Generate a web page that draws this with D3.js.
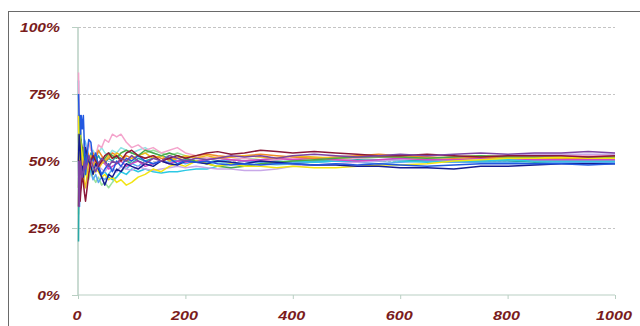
<!DOCTYPE html>
<html>
<head>
<meta charset="utf-8">
<script src="https://cdn.jsdelivr.net/npm/d3@7"></script>
<style>
  html, body { margin: 0; padding: 0; background: #fff; overflow: hidden; }
  svg { display: block; }
</style>
</head>
<body>
<svg id="chart" width="640" height="326"></svg>
<script>
// Number of flips at which each running proportion is recorded
const flips = [1,2,3,4,5,6,8,10,12,14,17,20,24,28,33,38,44,50,57,64,72,80,90,100,112,125,140,155,170,185,
               200,220,240,260,285,310,340,370,400,440,480,520,560,600,650,700,750,800,850,900,950,1000];

// Running share of heads (%) for each trial
const pink     = [83,70,60,58,55,52,50,56,54,52, 55,57,54,53,52,56,55,58,57,60, 59,60,57,55,56,54,55,53,54,55, 53,52,51,51.5,50.5,51,50,50.5,51,51, 50.5,51,51.5,51,51.5,51,51.5,52,51.5,52, 52,52];
const blue     = [75,67,67,67,60,67,62,67,55,45, 52,58,57,50,53,48,45,47,49,46, 50,48,51,50,52,50,49,50,51,49, 50,49.5,50,49,48.5,49,48.5,49,49,48.5, 49,48.5,49,48.5,48,48.5,49,49,49,49, 48.5,49];
const navy     = [50,60,58,55,50,45,48,44,50,55, 52,50,48,45,49,47,44,41,45,44, 47,46,49,48,47,49,48,50,49,48.5, 50,49.5,49,50,49.5,49,50,49.5,49,48.5, 48.5,48,48,47.5,47.5,47,48,48,48.5,49, 49,49];
const maroon   = [33,50,40,35,38,40,45,42,38,35, 40,45,50,52,50,48,50,52,53,51, 52,50,53,54,52,51,52,50,51,52, 51,52,53,53.5,52.5,53,54,53.5,53,53.5, 53,52.5,52,52,52.5,52,51.5,52,52,52, 51.5,52];
const purple   = [50,33,40,50,45,48,44,46,50,47, 49,52,50,48,46,49,51,50,48,50, 49,51,50,52,50,49,51,50,52,51, 50,51,50.5,51,52,51.5,52,51,52,52.5, 52,51.5,52,52.5,52,52.5,53,52.5,53,53, 53.5,53];
const yellow   = [67,50,60,58,57,55,52,50,48,45, 44,46,48,45,47,46,44,45,43,44, 42,43,41,42,44,45,47,46,48,49, 48,50,49,48,49,48,48,47.5,48,47.5, 47.5,48,48.5,48.5,49,50,50.5,51,51,51.5, 51,51];
const gold     = [50,67,55,45,50,58,50,45,42,40, 45,50,52,48,50,47,49,50,52,51, 53,52,50,51,52,53,51,52,50,51, 52,51,52,51,51.5,52,51.5,51,52,51.5, 51,51.5,52,51.5,51,51.5,52,51.5,51,51, 51.5,51.5];
const cyan     = [40,50,45,50,55,50,47,48,50,52, 49,47,46,48,50,47,45,46,44,43, 44,46,45,47,46,47,46,45.5,46,46, 46.5,47,47,48,49,49,50,49.5,50,49.5, 50,50,50.5,50,49.5,50,50,50.5,50,50, 50,50];
const skyBlue  = [80,50,33,50,40,50,50,50,58,57, 53,50,46,43,45,42,44,43,45,47, 46,48,47,49,48,50,49,50,49.5,50, 49,50,49.5,50,50.5,50,49.5,49,49.5,49.5, 50,49.5,49,49.5,50,49.5,49.5,49.5,49,49.5, 49.5,49.5];
const lightGrn = [30,50,45,40,44,50,45,42,44,48, 45,43,46,44,42,44,41,42,40,42, 44,46,48,50,52,53,54,53,52,53, 52,51,51,50,50.5,51,50.5,51,50.5,50, 50.5,51,50.5,50,50.5,50.5,51,50.5,50.5,50.5, 50.5,50.5];
const green    = [60,50,67,62,60,57,55,52,50,52, 49,51,50,52,51,49,50,51,53,52, 51,53,54,53,52,54,53,52,53,52, 51,50,49,48,47.5,48,49,49.5,50,50.5, 51,51.5,51.5,51.5,51,51.5,52,51.5,51.5,51.5, 51.5,51.5];
const teal     = [20,45,50,45,48,45,50,55,50,48, 52,50,53,51,50,52,50,49,51,50, 52,51,50,49,51,50,51,52,51,50, 50.5,50,49.5,50,50.5,50,50.5,50,49.5,50, 50,50.5,50,50.5,50,49.5,50,50,49.5,49.5, 49.5,49.5];
const lavender = [50,67,60,55,52,50,48,50,52,50, 48,47,49,48,46,48,47,46,48,47, 46,48,47,46.5,48,47,46.5,47,47.5,48, 47.5,48,47.5,47,47,46.5,46.5,47,48,48.5, 49,49.5,50,50.5,51,51.5,52,52,52.5,52.5, 52.5,52.5];
const orange   = [40,50,55,50,48,52,50,55,52,50, 54,52,50,53,51,54,52,50,51,53, 52,50,52,51,52,51,52,51,50.5,51, 51.5,52,52.5,52,51.5,52,52.5,52,51.5,51, 51.5,52,52.5,52,51.5,51,51.5,51,51,51, 51,51];
const magenta  = [67,50,40,45,50,52,48,46,48,50, 52,49,47,49,51,48,50,49,47,48, 49,50,48,49,50,48,49,50,49,50, 49.5,50,50.5,51,50.5,50,50.5,51,50.5,51, 50.5,50,50.5,51,50.5,50.5,51,51,50.5,50.5, 50.5,50.5];
const aqua     = [50,40,50,55,53,50,52,48,50,53, 51,50,52,54,52,53,55,53,52,54, 53,55,54,53,54,55,53,52,51,52, 51,50,49,49.5,49,48.5,49,48.5,49,49.5, 50,50.5,50,50.5,50,50.5,50,50.5,50,50, 50,50];

const seriesList = [
  { values: aqua,     color: "#8ee4e4" },
  { values: lightGrn, color: "#9ce29c" },
  { values: teal,     color: "#2aa8a8" },
  { values: skyBlue,  color: "#5aaaf0" },
  { values: cyan,     color: "#2cc8e4" },
  { values: pink,     color: "#f4a4cc" },
  { values: lavender, color: "#c8a8e8" },
  { values: magenta,  color: "#d048c4" },
  { values: orange,   color: "#f08a28" },
  { values: gold,     color: "#eebc1c" },
  { values: green,    color: "#48a848" },
  { values: yellow,   color: "#f2e414" },
  { values: navy,     color: "#141c94" },
  { values: blue,     color: "#2258e0" },
  { values: maroon,   color: "#8c1838" },
  { values: purple,   color: "#7c44a4" }
];

const yTicks = [0, 25, 50, 75, 100];
const xTicks = [0, 200, 400, 600, 800, 1000];

const svg = d3.select("#chart");
const x = d3.scaleLinear().domain([0, 1000]).range([78, 615]);
const y = d3.scaleLinear().domain([0, 100]).range([295, 27]);

// Outer chart frame (right and bottom edges sit beyond the view)
svg.append("rect")
  .attr("x", 8.5).attr("y", 11.5)
  .attr("width", 660).attr("height", 340)
  .attr("fill", "none").attr("stroke", "#6a6a6a").attr("stroke-width", 1);

// Dashed horizontal gridlines
svg.append("g").selectAll("line")
  .data(yTicks.filter(d => d > 0))
  .join("line")
  .attr("x1", x(0)).attr("x2", x(1000))
  .attr("y1", d => Math.round(y(d)) + 0.5).attr("y2", d => Math.round(y(d)) + 0.5)
  .attr("stroke", "#c4c4c4").attr("stroke-width", 1)
  .attr("stroke-dasharray", "3,2");

const axisColor = "#b9cfc3";

// Y axis
const yAxis = svg.append("g")
  .attr("transform", `translate(${x(0)},0)`)
  .call(d3.axisLeft(y).tickValues(yTicks).tickSize(6).tickFormat(""));
yAxis.select(".domain").attr("stroke", axisColor).attr("stroke-width", 1.5).attr("d", `M0,${y(100)}V${y(0)}`);
yAxis.selectAll(".tick line").attr("stroke", axisColor);

// X axis
const xAxis = svg.append("g")
  .attr("transform", `translate(0,${y(0)})`)
  .call(d3.axisBottom(x).tickValues(xTicks).tickSize(4).tickFormat(""));
xAxis.select(".domain").attr("stroke", axisColor).attr("stroke-width", 1.2).attr("d", `M${x(0)},0H${x(1000)}`);
xAxis.selectAll(".tick line").attr("stroke", axisColor);

// Tick labels
const labelStyle = sel => sel
  .attr("fill", "#7a1c1c")
  .attr("font-family", "Liberation Sans, Arial, sans-serif")
  .attr("font-size", 13.5)
  .attr("font-weight", "bold")
  .attr("font-style", "italic");

svg.append("g").selectAll("text")
  .data(yTicks)
  .join("text")
  .attr("text-anchor", "end")
  .attr("transform", d => `translate(60,${y(d) + 5}) scale(1.16,1)`)
  .text(d => d + "%")
  .call(labelStyle);

svg.append("g").selectAll("text")
  .data(xTicks)
  .join("text")
  .attr("text-anchor", "middle")
  .attr("transform", d => `translate(${x(d) - 1},320) scale(1.2,1)`)
  .text(d => d)
  .call(labelStyle);

// Running-proportion lines
const line = d3.line()
  .x(d => x(d[0]))
  .y(d => y(d[1]));

svg.append("g").selectAll("path")
  .data(seriesList)
  .join("path")
  .attr("d", s => line(flips.map((f, i) => [f, s.values[i]]).filter(p => p[1] !== undefined)))
  .attr("fill", "none")
  .attr("stroke", s => s.color)
  .attr("stroke-width", 1.5)
  .attr("stroke-linejoin", "round");
</script>
</body>
</html>
